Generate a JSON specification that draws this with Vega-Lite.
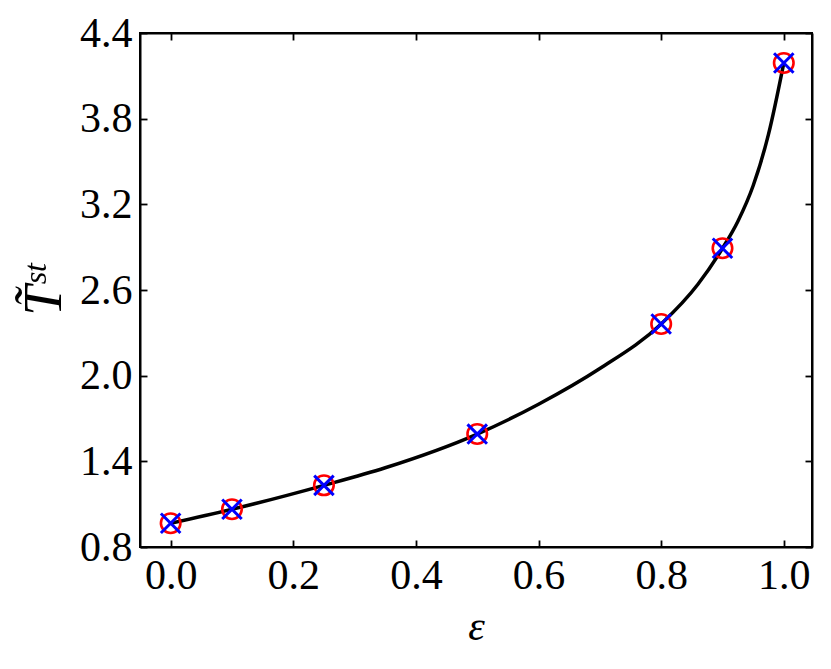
{
  "$schema": "https://vega.github.io/schema/vega-lite/v6.json",
  "autosize": "none",
  "width": 672,
  "height": 514,
  "padding": {"left": 140, "top": 33, "right": 19, "bottom": 122},
  "background": "white",
  "config": {
    "view": {"stroke": "black", "strokeWidth": 2},
    "axis": {
      "grid": false,
      "domainColor": "black",
      "domainWidth": 2,
      "tickColor": "black",
      "tickWidth": 1.8,
      "tickSize": -7,
      "labelFont": "Liberation Serif",
      "labelFontSize": 42,
      "labelColor": "black",
      "titleFont": "Liberation Serif",
      "titleColor": "black",
      "titleFontWeight": "normal"
    }
  },
  "datasets": {
    "curve": [
      {"eps": 0.0, "T": 0.966},
      {"eps": 0.1, "T": 1.064},
      {"eps": 0.25, "T": 1.232},
      {"eps": 0.35, "T": 1.355},
      {"eps": 0.5, "T": 1.591},
      {"eps": 0.6, "T": 1.8},
      {"eps": 0.7, "T": 2.05},
      {"eps": 0.8, "T": 2.362},
      {"eps": 0.86, "T": 2.64},
      {"eps": 0.9, "T": 2.892},
      {"eps": 0.925, "T": 3.08},
      {"eps": 0.95, "T": 3.33},
      {"eps": 0.975, "T": 3.69},
      {"eps": 1.0, "T": 4.19}
    ],
    "pts": [
      {"eps": 0.0, "T": 0.966},
      {"eps": 0.1, "T": 1.064},
      {"eps": 0.25, "T": 1.232},
      {"eps": 0.5, "T": 1.591},
      {"eps": 0.8, "T": 2.362},
      {"eps": 0.9, "T": 2.892},
      {"eps": 1.0, "T": 4.19}
    ]
  },
  "layer": [
    {
      "data": {"name": "curve"},
      "mark": {"type": "line", "color": "black", "strokeWidth": 3.5, "interpolate": "monotone"},
      "encoding": {
        "x": {
          "field": "eps", "type": "quantitative",
          "scale": {"domain": [-0.05, 1.046], "nice": false, "zero": false},
          "axis": {
            "orient": "bottom",
            "values": [0, 0.2, 0.4, 0.6, 0.8, 1.0],
            "format": ".1f",
            "labelPadding": 15,
            "title": "ε",
            "titleFontSize": 42,
            "titleFontStyle": "italic",
            "titlePadding": 10
          }
        },
        "y": {
          "field": "T", "type": "quantitative",
          "scale": {"domain": [0.8, 4.4], "nice": false, "zero": false},
          "axis": {
            "orient": "left",
            "values": [0.8, 1.4, 2.0, 2.6, 3.2, 3.8, 4.4],
            "format": ".1f",
            "labelPadding": 15,
            "title": "T̃ˢᵗ",
            "titleFontSize": 54,
            "titleFontStyle": "italic",
            "titlePadding": 8
          }
        }
      }
    },
    {
      "data": {"name": "pts"},
      "mark": {"type": "point", "shape": "circle", "filled": false, "color": "red", "opacity": 1, "strokeWidth": 2.6, "size": 380},
      "encoding": {
        "x": {"field": "eps", "type": "quantitative", "axis": {"orient": "top", "labels": false, "title": null, "values": [0, 0.2, 0.4, 0.6, 0.8, 1.0]}},
        "y": {"field": "T", "type": "quantitative", "axis": {"orient": "right", "labels": false, "title": null, "values": [0.8, 1.4, 2.0, 2.6, 3.2, 3.8, 4.4]}}
      }
    },
    {
      "data": {"name": "pts"},
      "mark": {"type": "point", "shape": "M-1,-1L1,1M-1,1L1,-1", "filled": false, "color": "blue", "opacity": 1, "strokeWidth": 3, "size": 380},
      "encoding": {
        "x": {"field": "eps", "type": "quantitative", "axis": null},
        "y": {"field": "T", "type": "quantitative", "axis": null}
      }
    }
  ],
  "resolve": {"axis": {"x": "independent", "y": "independent"}}
}
